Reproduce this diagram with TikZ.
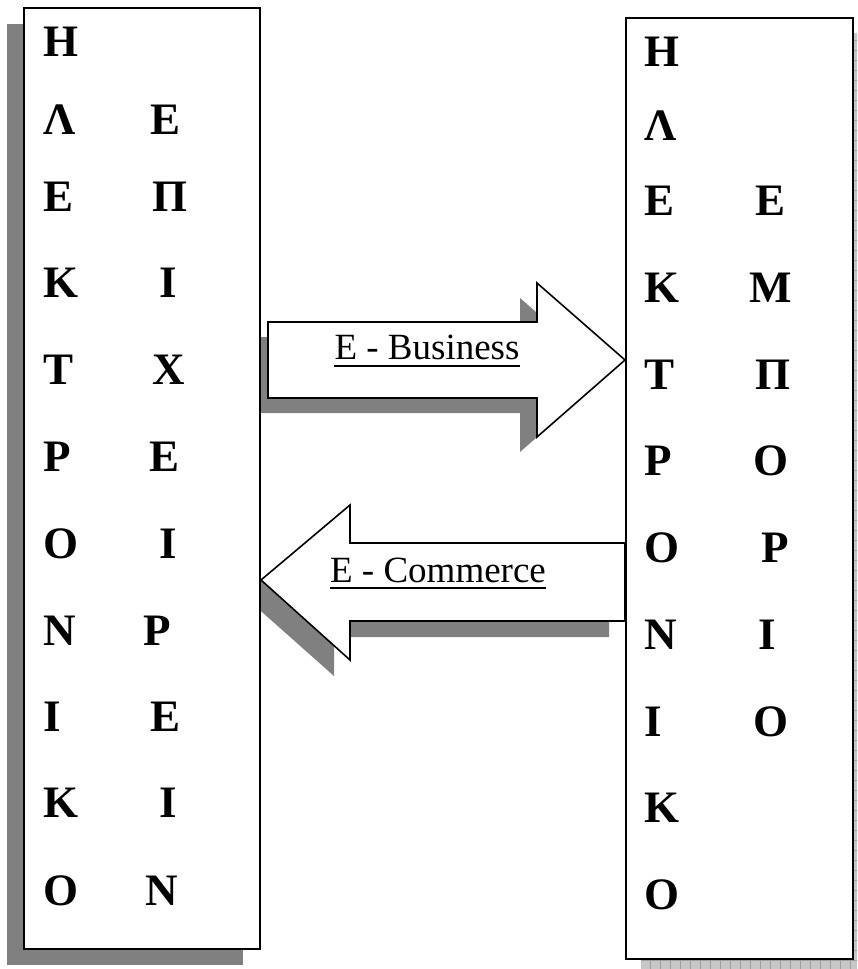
\documentclass[tikz,border=0pt]{standalone}
\usepackage{fontspec}
\setmainfont{Liberation Serif}
\begin{document}
\begin{tikzpicture}[x=1pt,y=-1pt,
  frame/.style={draw=black,line width=2pt,fill=white,inner sep=0pt,anchor=north west},
  darkshadow/.style={fill=black!50},
  lightshadow/.style={fill=black!22},
  letter/.style={inner sep=0pt,font=\fontsize{45}{45}\selectfont\bfseries},
  blockarrow/.style={draw=black,line width=1.6pt,fill=white,line join=miter},
  arrowlabel/.style={inner sep=0pt,anchor=base,font=\fontsize{37}{37}\selectfont}]
\useasboundingbox (0,0) rectangle (857,969);
\fill[white] (0,0) rectangle (857,969);
\clip (0,0) rectangle (857,969);

% frame shadows
\fill[darkshadow] (7,24) rectangle (243,965);
\fill[lightshadow] (641,33) rectangle (868,974);
\begin{scope}
  \clip (641,33) rectangle (868,974);
  \draw[black!38,line width=0.6pt,step=10pt] (641,33) grid (868,974);
\end{scope}

% block arrow shadows
\fill[darkshadow,shift={(-17,15)}] (268,322) -- (537,322) -- (537,283) -- (625,360)
  -- (537,437) -- (537,398) -- (268,398) -- cycle;
\fill[darkshadow,shift={(-16,16)}] (625,543) -- (350,543) -- (350,505) -- (260,580)
  -- (350,660) -- (350,621) -- (625,621) -- cycle;

% frames
\node[frame,minimum width=236pt,minimum height=941pt] (leftbox) at (23,7) {};
\node[frame,minimum width=227pt,minimum height=941pt] (rightbox) at (625,17) {};

% block arrows
\coordinate (bizstart) at (268,360);
\coordinate (comstart) at (625,582);
\draw[blockarrow] (bizstart |- 0,322) -- (537,322) -- (537,283) -- (rightbox.west |- bizstart)
  -- (537,437) -- (537,398) -- (bizstart |- 0,398) -- cycle;
\draw[blockarrow] (comstart |- 0,543) -- (350,543) -- (350,505) -- (leftbox.east |- 0,580)
  -- (350,660) -- (350,621) -- (comstart |- 0,621) -- cycle;

% arrow labels
\node[arrowlabel] (biz) at (427,359) {E - Business};
\draw[line width=1.5pt] ([yshift=-7pt]biz.base west) -- ([yshift=-7pt]biz.base east);
\node[arrowlabel] (com) at (438,582) {E - Commerce};
\draw[line width=1.5pt] ([yshift=-6pt]com.base west) -- ([yshift=-6pt]com.base east);

% letters of the left frame
\foreach \y/\a/\b/\bx [count=\i] in {42/Η//166, 120/Λ/Ε/166, 197/Ε/Π/170, 283/Κ/Ι/168,
    370/Τ/Χ/169, 457/Ρ/Ε/165, 544/Ο/Ι/168, 631/Ν/Ρ/157, 717/Ι/Ε/166, 803/Κ/Ι/168, 891/Ο/Ν/162}{
  \node[letter,anchor=west] (la\i) at (43,\y) {\a};
  \node[letter] (lb\i) at (\bx,\y) {\b};
}

% letters of the right frame
\foreach \y/\a/\b/\bx [count=\i] in {52/Η//770, 126/Λ//770, 201/Ε/Ε/770, 288/Κ/Μ/771,
    375/Τ/Π/773, 461/Ρ/Ο/771, 548/Ο/Ρ/775, 635/Ν/Ι/767, 722/Ι/Ο/771, 808/Κ//770, 895/Ο//770}{
  \node[letter,anchor=west] (ra\i) at (644,\y) {\a};
  \node[letter] (rb\i) at (\bx,\y) {\b};
}
\end{tikzpicture}
\end{document}
